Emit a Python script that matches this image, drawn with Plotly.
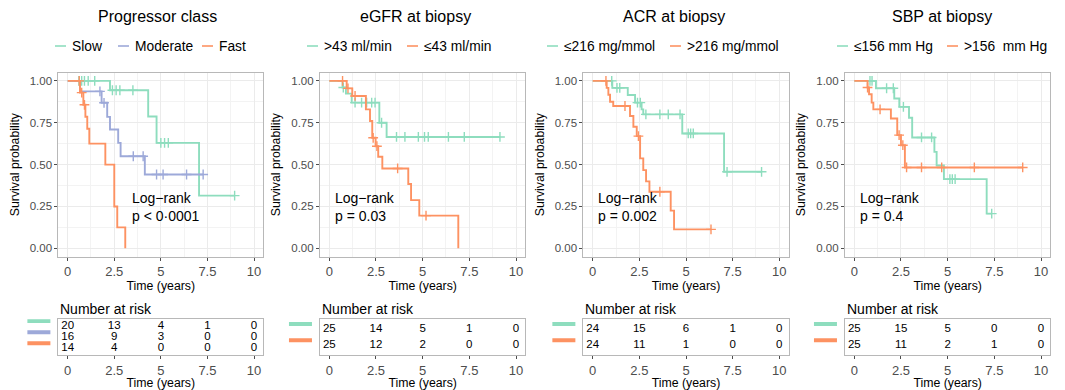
import numpy as np
import plotly.graph_objects as go

# ---------------- data ----------------
titles = ["Progressor class", "eGFR at biopsy", "ACR at biopsy", "SBP at biopsy"]
pvals = ["p &lt; 0·0001", "p = 0.03", "p = 0.002", "p = 0.4"]
pval_x = [3.34, 0.2, 0.15, 0.2]
risk_times = [0, 2.5, 5, 7.5, 10]

# Panel 1: progressor class
p1_labels = ["Slow", "Moderate", "Fast"]
p1_slow_t = [0, 2.27, 4.32, 4.77, 7.05]
p1_slow_s = [1.0, 0.944, 0.787, 0.63, 0.315]
p1_slow_c = [0.6, 0.75, 0.9, 1.1, 1.45, 2.4, 2.6, 2.8, 3.5, 5.0, 5.2, 5.4, 8.96]
p1_mod_t = [0, 0.66, 1.82, 2.12, 2.27, 2.71, 2.84, 4.14]
p1_mod_s = [1.0, 0.9375, 0.869, 0.785, 0.71, 0.63, 0.55, 0.441]
p1_mod_c = [1.73, 1.95, 3.52, 4.05, 4.77, 5.12, 6.38, 7.27]
p1_fast_t = [0, 0.66, 0.84, 0.95, 1.05, 1.16, 2.02, 2.5, 2.66, 3.09]
p1_fast_s = [1.0, 0.93, 0.857, 0.786, 0.714, 0.625, 0.5, 0.25, 0.125, 0.0]
p1_fast_c = [0.62, 0.75, 0.9]
p1_risk = [[20, 13, 4, 1, 0], [16, 9, 3, 0, 0], [14, 4, 0, 0, 0]]

# Panel 2: eGFR
p2_labels = [">43 ml/min", "≤43 ml/min"]
p2_hi_t = [0, 0.71, 0.89, 1.2, 2.68, 3.07]
p2_hi_s = [1.0, 0.96, 0.924, 0.87, 0.75, 0.665]
p2_hi_c = [0.75, 1.38, 1.73, 2.0, 2.27, 2.45, 2.8, 3.6, 4.05, 4.77, 5.1, 5.3, 6.38, 7.23, 9.14]
p2_lo_t = [0, 0.93, 1.23, 1.96, 2.18, 2.3, 2.48, 2.62, 2.84, 4.23, 4.38, 4.82, 6.91]
p2_lo_s = [1.0, 0.955, 0.91, 0.83, 0.76, 0.66, 0.61, 0.547, 0.477, 0.384, 0.288, 0.195, 0.0]
p2_lo_c = [0.71, 1.0, 1.38, 2.35, 2.55, 3.66, 5.18]
p2_risk = [[25, 14, 5, 1, 0], [25, 12, 2, 0, 0]]

# Panel 3: ACR
p3_labels = ["≤216 mg/mmol", ">216 mg/mmol"]
p3_lo_t = [0, 1.05, 1.88, 2.27, 2.62, 2.71, 4.8, 7.04]
p3_lo_s = [1.0, 0.958, 0.916, 0.87, 0.83, 0.80, 0.686, 0.457]
p3_lo_c = [1.02, 1.3, 1.45, 2.4, 2.55, 2.85, 3.6, 4.05, 4.68, 5.12, 5.25, 5.39, 7.2, 9.05]
p3_hi_t = [0, 0.75, 0.84, 0.93, 1.1, 2.0, 2.18, 2.36, 2.54, 2.71, 2.86, 3.04, 4.18, 4.36]
p3_hi_s = [1.0, 0.958, 0.917, 0.875, 0.85, 0.79, 0.726, 0.67, 0.537, 0.467, 0.40, 0.338, 0.225, 0.113]
p3_hi_c = [0.71, 1.73, 2.45, 3.6, 6.34]
p3_risk = [[24, 15, 6, 1, 0], [24, 11, 1, 0, 0]]

# Panel 4: SBP
p4_labels = ["≤156 mm Hg", ">156  mm Hg"]
p4_lo_t = [0, 1.16, 2.14, 2.41, 2.93, 3.1, 4.29, 4.41, 4.8, 7.09]
p4_lo_s = [1.0, 0.956, 0.895, 0.845, 0.78, 0.662, 0.576, 0.495, 0.413, 0.207]
p4_lo_c = [0.84, 0.95, 1.73, 2.09, 2.63, 3.6, 4.14, 5.12, 5.25, 5.4, 7.36]
p4_hi_t = [0, 0.71, 0.79, 0.93, 1.02, 1.96, 2.3, 2.5, 2.71]
p4_hi_s = [1.0, 0.96, 0.92, 0.87, 0.83, 0.775, 0.676, 0.616, 0.483]
p4_hi_c = [0.71, 1.38, 2.4, 2.6, 2.8, 3.6, 4.68, 6.43, 9.02]
p4_risk = [[25, 15, 5, 0, 0], [25, 11, 2, 1, 0]]

# ---------------- style / layout ----------------
W, H = 1065, 390
GREEN, BLUE, ORANGE = "#8EDDBE", "#9DA9D9", "#FD9262"
FONT = "Liberation Sans, Arial, Helvetica, sans-serif"
GRID = "#EBEBEB"
BORDER = "#B8B8B8"
TICKC = "#4D4D4D"

panels = [
    dict(labels=p1_labels, colors=[GREEN, BLUE, ORANGE],
         curves=[(p1_slow_t, p1_slow_s, p1_slow_c), (p1_mod_t, p1_mod_s, p1_mod_c),
                 (p1_fast_t, p1_fast_s, p1_fast_c)], risk=p1_risk),
    dict(labels=p2_labels, colors=[GREEN, ORANGE],
         curves=[(p2_hi_t, p2_hi_s, p2_hi_c), (p2_lo_t, p2_lo_s, p2_lo_c)], risk=p2_risk),
    dict(labels=p3_labels, colors=[GREEN, ORANGE],
         curves=[(p3_lo_t, p3_lo_s, p3_lo_c), (p3_hi_t, p3_hi_s, p3_hi_c)], risk=p3_risk),
    dict(labels=p4_labels, colors=[GREEN, ORANGE],
         curves=[(p4_lo_t, p4_lo_s, p4_lo_c), (p4_hi_t, p4_hi_s, p4_hi_c)], risk=p4_risk),
]

zero_px = [67.7, 329.3, 592.7, 854.3]
ten_px = [254.0, 516.0, 779.3, 1041.0]
title_cx = [157, 415, 674, 942]
leg_x = [[55, 118, 202], [307, 407], [547, 670], [837, 947]]
KM_TOP, KM_BOT = 72.5, 256.7
TB_TOP, TB_BOT = 319.3, 355.0


def px(x):
    return x / W


def py(y):
    return 1 - y / H


def step_at(t, s, c):
    t = np.asarray(t); s = np.asarray(s)
    idx = np.searchsorted(t, np.asarray(c), side="right") - 1
    return s[idx]


fig = go.Figure()
layout = dict(width=W, height=H, margin=dict(l=0, r=0, t=0, b=0),
              paper_bgcolor="white", plot_bgcolor="white", showlegend=False,
              font=dict(family=FONT, color="black"))
shapes, annots = [], []

for i, p in enumerate(panels):
    k = i + 1
    kt = i + 5
    xa = "x" if k == 1 else f"x{k}"
    ya = "y" if k == 1 else f"y{k}"
    xt, yt = f"x{kt}", f"y{kt}"
    ppy = (ten_px[i] - zero_px[i]) / 10
    dom = [px(zero_px[i] - 0.5 * ppy), px(zero_px[i] + 10.5 * ppy)]

    for (t, s, c), col in zip(p["curves"], p["colors"]):
        xs, ys = list(t), list(s)
        if max(c) > xs[-1]:
            xs.append(max(c)); ys.append(ys[-1])
        fig.add_trace(go.Scatter(x=xs, y=ys, mode="lines", line=dict(color=col, width=1.9, shape="hv"),
                                 xaxis=xa, yaxis=ya, hoverinfo="skip"))
        fig.add_trace(go.Scatter(x=c, y=step_at(t, s, c), mode="markers",
                                 marker=dict(symbol="cross-thin", size=7, line=dict(color=col, width=1.4)),
                                 xaxis=xa, yaxis=ya, hoverinfo="skip"))

    n = len(p["risk"])
    for r, (row, col) in enumerate(zip(p["risk"], p["colors"])):
        fig.add_trace(go.Scatter(x=risk_times, y=[n - r] * len(risk_times), mode="text",
                                 text=[str(v) for v in row], textfont=dict(size=11.5, color="black"),
                                 xaxis=xt, yaxis=yt, hoverinfo="skip"))
        upix = (TB_BOT - TB_TOP) / (n + 0.2)
        yb = n - r + 5.0 / upix
        shapes.append(dict(type="line", xref="paper", yref=yt,
                           x0=px(zero_px[i] - 0.5 * ppy - 31), x1=px(zero_px[i] - 0.5 * ppy - 8),
                           y0=yb, y1=yb, line=dict(color=col, width=4)))

    common_x = dict(range=[-0.5, 10.5], tickmode="linear", tick0=0, dtick=2.5, domain=dom,
                    ticks="outside", ticklen=3, tickcolor=TICKC, tickwidth=1,
                    tickfont=dict(size=13, color=TICKC), showline=True, mirror=True,
                    linecolor=BORDER, linewidth=1, zeroline=False, automargin=False,
                    title=dict(text="Time (years)", font=dict(size=12.3, color="black"), standoff=1))
    layout["xaxis" if k == 1 else f"xaxis{k}"] = dict(
        common_x, anchor=ya, showgrid=True, gridcolor=GRID, gridwidth=1,
        minor=dict(dtick=1.25, tick0=0, showgrid=True, gridcolor="#F3F3F3", gridwidth=0.6))
    layout["yaxis" if k == 1 else f"yaxis{k}"] = dict(
        anchor=xa, domain=[py(KM_BOT), py(KM_TOP)], range=[-0.05, 1.05], tickmode="linear",
        tick0=0, dtick=0.25, tickformat=".2f", ticks="outside", ticklen=3, tickcolor=TICKC,
        tickfont=dict(size=11.5, color=TICKC), showline=True, mirror=True, linecolor=BORDER,
        zeroline=False, showgrid=True, gridcolor=GRID, gridwidth=1, automargin=False,
        minor=dict(dtick=0.125, tick0=0, showgrid=True, gridcolor="#F3F3F3", gridwidth=0.6),
        title=dict(text="Survival probability", font=dict(size=12.3, color="black"), standoff=7))
    layout[f"xaxis{kt}"] = dict(common_x, anchor=yt, showgrid=False)
    layout[f"yaxis{kt}"] = dict(anchor=xt, domain=[py(TB_BOT), py(TB_TOP)], range=[0.4, n + 0.6],
                                showticklabels=False, ticks="", showgrid=False, zeroline=False,
                                showline=True, mirror=True, linecolor=BORDER, automargin=False)

    # Title
    annots.append(dict(text=titles[i], xref="paper", yref="paper", x=px(title_cx[i]), y=py(17),
                       xanchor="center", yanchor="middle", showarrow=False,
                       font=dict(size=16, color="black")))
    # Legend
    for lab, col, lx in zip(p["labels"], p["colors"], leg_x[i]):
        shapes.append(dict(type="line", xref="paper", yref="paper", x0=px(lx), x1=px(lx + 11),
                           y0=py(46), y1=py(46), line=dict(color=col, width=1.6)))
        annots.append(dict(text=lab.replace("  ", "&nbsp; "), xref="paper", yref="paper",
                           x=px(lx + 15), y=py(46), xanchor="left", yanchor="middle",
                           showarrow=False, font=dict(size=13.8, color="black")))
    # Log-rank annotation
    annots.append(dict(text="Log−rank<br>" + pvals[i], xref=xa, yref=ya, x=pval_x[i], y=0.245,
                       xanchor="left", yanchor="middle", align="left", showarrow=False,
                       font=dict(size=14, color="black")))
    # Number at risk title
    annots.append(dict(text="Number at risk", xref="paper", yref="paper",
                       x=px(zero_px[i] - 0.5 * ppy), y=py(309), xanchor="left", yanchor="middle",
                       showarrow=False, font=dict(size=14, color="black")))

layout["shapes"] = shapes
layout["annotations"] = annots
fig.update_layout(**layout)
fig.write_html("out.html")
